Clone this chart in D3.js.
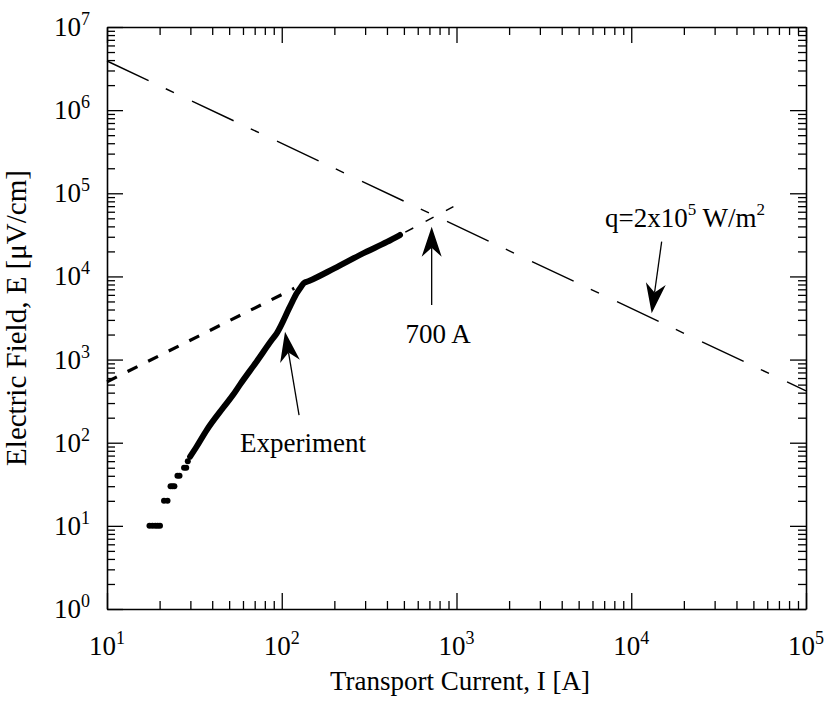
<!DOCTYPE html>
<html>
<head>
<meta charset="utf-8">
<script src="https://cdn.jsdelivr.net/npm/d3@7"></script>
<style>
body { margin: 0; background: #fff; }
text { font-family: "Liberation Serif", "Times New Roman", serif; fill: #000; }
</style>
</head>
<body>
<div id="chart"></div>
<script>
// axis decades
var xDecades = [10, 100, 1000, 10000, 100000];
var yDecades = [1, 10, 100, 1000, 10000, 100000, 1000000, 10000000];
var xExp = [1, 2, 3, 4, 5];
var yExp = [0, 1, 2, 3, 4, 5, 6, 7];

// q = 2x10^5 W/m^2 line (long dash)
var qLineI = [10, 100000];
var qLineE = [3900000, 420];

// dashed fit line: thick part, and thin extrapolation
var fitLowI = [10, 118];
var fitLowE = [540, 7200];
var fitHighI = [475, 960];
var fitHighE = [31500, 69000];

// experiment, low-field discrete points
var expDotI = [17.5, 18.2, 18.9, 19.5, 20.1, 21.2, 22.2, 23.1, 23.7, 24.3, 25.3, 26.0, 27.6, 28.4, 29.0];
var expDotE = [10, 10, 10, 10, 10, 20, 20, 30, 30, 30, 40, 40, 50, 50, 60];

// experiment, continuous part
var expI = [29.9, 32.6, 37.2, 46.3, 52.8, 57.7, 71.9, 87.6, 93.6, 111.4, 121.8, 128.8, 134, 143, 200, 300, 400, 475];
var expE = [68, 90, 142, 265, 380, 500, 950, 1719, 2070, 4330, 6270, 7460, 8340, 8810, 12500, 19500, 26000, 31500];

// annotation arrows (tail -> tip)
var arrowTailI = [125.6, 721, 14930];
var arrowTailE = [215, 4530, 26200];
var arrowTipI = [104.4, 721, 13090];
var arrowTipE = [2163, 39600, 3600];

// annotation labels
var noteText = ["Experiment", "700 A"];
var noteI = [57.7, 784];
var noteE = [78, 1596];
var noteAnchor = ["start", "middle"];

var W = 824, H = 712;
var m = {left: 107, top: 27, right: 18, bottom: 103};

var svg = d3.select("#chart").append("svg").attr("width", W).attr("height", H);

var x = d3.scaleLog().domain([10, 100000]).range([m.left, W - m.right]);
var y = d3.scaleLog().domain([1, 10000000]).range([H - m.bottom, m.top]);

var xMinor = [], yMinor = [];
xDecades.slice(0, -1).forEach(function(d){ for (var k = 2; k < 10; k++) xMinor.push(d * k); });
yDecades.slice(0, -1).forEach(function(d){ for (var k = 2; k < 10; k++) yMinor.push(d * k); });

function drawAxis(axisFn, scale, tr, major, minor) {
    var g = svg.append("g").attr("transform", tr);
    g.call(axisFn(scale).tickValues(major).tickSize(-16).tickSizeOuter(0).tickFormat(""));
    g.append("g").call(axisFn(scale).tickValues(minor).tickSize(-8).tickSizeOuter(0).tickFormat(""))
        .select(".domain").remove();
    g.selectAll("line").attr("stroke", "#000").attr("stroke-width", 1.3);
    g.select(".domain").attr("stroke", "#000").attr("stroke-width", 1.6);
}
drawAxis(d3.axisBottom, x, "translate(0," + (H - m.bottom) + ")", xDecades, xMinor);
drawAxis(d3.axisTop, x, "translate(0," + m.top + ")", xDecades, xMinor);
drawAxis(d3.axisLeft, y, "translate(" + m.left + ",0)", yDecades, yMinor);
drawAxis(d3.axisRight, y, "translate(" + (W - m.right) + ",0)", yDecades, yMinor);

// tick labels 10^n
var xl = svg.append("g").selectAll("text").data(xDecades).enter().append("text")
    .attr("x", function(d){ return x(d); }).attr("y", H - m.bottom + 46)
    .attr("text-anchor", "middle").style("font-size", "27px");
xl.append("tspan").text("10");
xl.append("tspan").attr("dy", -11).style("font-size", "18px").text(function(d, i){ return xExp[i]; });

var yl = svg.append("g").selectAll("text").data(yDecades).enter().append("text")
    .attr("x", m.left - 17).attr("y", function(d){ return y(d) + 9; })
    .attr("text-anchor", "end").style("font-size", "27px");
yl.append("tspan").text("10");
yl.append("tspan").attr("dy", -11).style("font-size", "18px").text(function(d, i){ return yExp[i]; });

// axis titles
svg.append("text").attr("x", 460).attr("y", 690).attr("text-anchor", "middle")
    .style("font-size", "27px").text("Transport Current, I [A]");
svg.append("text").attr("transform", "translate(26," + ((m.top + H - m.bottom) / 2) + ") rotate(-90)")
    .attr("text-anchor", "middle").style("font-size", "29px").text("Electric Field, E [\u03bcV/cm]");

var line = d3.line().x(function(d){ return x(d[0]); }).y(function(d){ return y(d[1]); });

// q line
svg.append("path").datum(d3.zip(qLineI, qLineE)).attr("d", line)
    .attr("fill", "none").attr("stroke", "#000").attr("stroke-width", 1.4)
    .attr("stroke-dasharray", "46,19,9,20");

// fit lines
svg.append("path").datum(d3.zip(fitLowI, fitLowE)).attr("d", line)
    .attr("fill", "none").attr("stroke", "#000").attr("stroke-width", 3.2)
    .attr("stroke-dasharray", "11,12");
svg.append("path").datum(d3.zip(fitHighI, fitHighE)).attr("d", line)
    .attr("fill", "none").attr("stroke", "#000").attr("stroke-width", 1.5)
    .attr("stroke-dasharray", "9,14").attr("stroke-dashoffset", -6);

// experiment
svg.append("g").selectAll("circle").data(d3.zip(expDotI, expDotE)).enter().append("circle")
    .attr("cx", function(d){ return x(d[0]); }).attr("cy", function(d){ return y(d[1]); })
    .attr("r", 3).attr("fill", "#000");
svg.append("path").datum(d3.zip(expI, expE)).attr("d", line.curve(d3.curveMonotoneX))
    .attr("fill", "none").attr("stroke", "#000").attr("stroke-width", 6)
    .attr("stroke-linecap", "round").attr("stroke-linejoin", "round");

// arrows
var arrows = svg.append("g");
arrowTailI.forEach(function(d, i){
    var x0 = x(d), y0 = y(arrowTailE[i]), x1 = x(arrowTipI[i]), y1 = y(arrowTipE[i]);
    var len = Math.hypot(x1 - x0, y1 - y0), ux = (x1 - x0) / len, uy = (y1 - y0) / len;
    var L = 30, hw = 10, notch = 21;
    arrows.append("line").attr("x1", x0).attr("y1", y0)
        .attr("x2", x1 - ux * notch).attr("y2", y1 - uy * notch)
        .attr("stroke", "#000").attr("stroke-width", 1.3);
    var pts = [
        [x1, y1],
        [x1 - ux * L - uy * hw, y1 - uy * L + ux * hw],
        [x1 - ux * notch, y1 - uy * notch],
        [x1 - ux * L + uy * hw, y1 - uy * L - ux * hw]
    ];
    arrows.append("path").attr("d", "M" + pts.join("L") + "Z").attr("fill", "#000");
});

// labels
svg.append("g").selectAll("text").data(noteText).enter().append("text")
    .attr("x", function(d, i){ return x(noteI[i]); }).attr("y", function(d, i){ return y(noteE[i]); })
    .attr("text-anchor", function(d, i){ return noteAnchor[i]; })
    .style("font-size", "27px").text(function(d){ return d; });

var q = svg.append("text").attr("x", x(7080)).attr("y", y(39300)).style("font-size", "27px");
q.append("tspan").text("q=2x10");
q.append("tspan").attr("dy", -12).style("font-size", "17px").text("5");
q.append("tspan").attr("dy", 12).text(" W/m");
q.append("tspan").attr("dy", -12).style("font-size", "17px").text("2");
</script>
</body>
</html>
